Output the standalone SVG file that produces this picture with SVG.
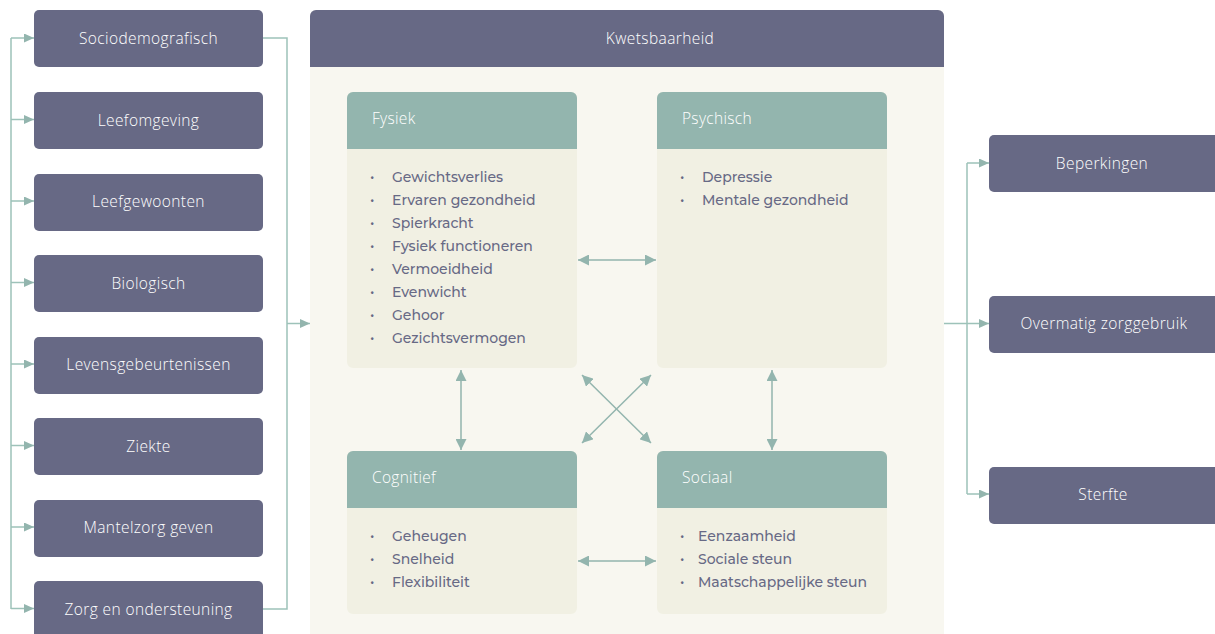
<svg xmlns="http://www.w3.org/2000/svg" width="1215" height="634" viewBox="0 0 1215 634">
<defs>
<style>
.nb{fill:#676985}
.nt{fill:#fff;font-family:"Open Sans","Noto Sans",sans-serif;font-weight:300;font-size:15.5px;letter-spacing:0.4px;text-anchor:middle;dominant-baseline:central}
.ht{fill:#fff;font-family:"Open Sans","Noto Sans",sans-serif;font-weight:300;font-size:15.5px;letter-spacing:0.3px;dominant-baseline:central}
.hd{fill:#93b5ae}
.bd{fill:#f1f0e3}
.li{fill:#676985;font-family:"Montserrat","Open Sans","Noto Sans",sans-serif;font-weight:500;font-size:14px;dominant-baseline:central}
.ln{fill:none;stroke:#9dc2b9;stroke-width:1.5}
.ar{fill:none;stroke:#93b5ae;stroke-width:1.5}
</style>
<marker id="ah" viewBox="0 0 10 10" refX="10" refY="5" markerWidth="10" markerHeight="9" markerUnits="userSpaceOnUse" orient="auto-start-reverse" preserveAspectRatio="none">
<path d="M0,0 L10,5 L0,10 z" fill="#93b5ae"/>
</marker>
<marker id="ah2" viewBox="0 0 10 10" refX="10" refY="5" markerWidth="11" markerHeight="11" markerUnits="userSpaceOnUse" orient="auto-start-reverse">
<path d="M0,0 L10,5 L0,10 z" fill="#93b5ae"/>
</marker>
</defs>

<g id="panel">
<path d="M310,634 V16 a6,6 0 0 1 6,-6 H938 a6,6 0 0 1 6,6 V634 z" fill="#f8f7f0"/>
<path d="M310,67 V16 a6,6 0 0 1 6,-6 H938 a6,6 0 0 1 6,6 V67 z" class="nb"/>
<text x="660" y="38" class="nt">Kwetsbaarheid</text>
</g>

<g id="left-nodes">
<g id="n-socio"><rect x="34" y="10" width="229" height="57" rx="5" class="nb"/><text x="148.5" y="38" class="nt">Sociodemografisch</text></g>
<g id="n-leefomgeving"><rect x="34" y="92" width="229" height="57" rx="5" class="nb"/><text x="148.5" y="119.5" class="nt">Leefomgeving</text></g>
<g id="n-leefgewoonten"><rect x="34" y="174" width="229" height="57" rx="5" class="nb"/><text x="148.5" y="201" class="nt">Leefgewoonten</text></g>
<g id="n-biologisch"><rect x="34" y="255" width="229" height="57" rx="5" class="nb"/><text x="148.5" y="282.5" class="nt">Biologisch</text></g>
<g id="n-levens"><rect x="34" y="337" width="229" height="57" rx="5" class="nb"/><text x="148.5" y="364" class="nt">Levensgebeurtenissen</text></g>
<g id="n-ziekte"><rect x="34" y="418" width="229" height="57" rx="5" class="nb"/><text x="148.5" y="445.5" class="nt">Ziekte</text></g>
<g id="n-mantelzorg"><rect x="34" y="500" width="229" height="57" rx="5" class="nb"/><text x="148.5" y="527" class="nt">Mantelzorg geven</text></g>
<g id="n-zorg"><rect x="34" y="581" width="229" height="60" rx="5" class="nb"/><text x="148.5" y="608.5" class="nt">Zorg en ondersteuning</text></g>
</g>

<g id="right-nodes">
<g id="n-beperkingen"><rect x="989" y="135" width="235" height="57" rx="5" class="nb"/><text x="1102" y="162.5" class="nt">Beperkingen</text></g>
<g id="n-overmatig"><rect x="989" y="296" width="235" height="57" rx="5" class="nb"/><text x="1104" y="323" class="nt">Overmatig zorggebruik</text></g>
<g id="n-sterfte"><rect x="989" y="467" width="235" height="57" rx="5" class="nb"/><text x="1103" y="494" class="nt">Sterfte</text></g>
</g>

<g id="n-fysiek">
<path d="M347,368 V98 a6,6 0 0 1 6,-6 H571 a6,6 0 0 1 6,6 V362 a6,6 0 0 1 -6,6 H353 a6,6 0 0 1 -6,-6 z" class="bd"/>
<path d="M347,149 V98 a6,6 0 0 1 6,-6 H571 a6,6 0 0 1 6,6 V149 z" class="hd"/>
<text x="372" y="118" class="ht">Fysiek</text>
<g class="li">
<text x="370" y="177">•</text><text x="392" y="177">Gewichtsverlies</text>
<text x="370" y="200">•</text><text x="392" y="200">Ervaren gezondheid</text>
<text x="370" y="223">•</text><text x="392" y="223">Spierkracht</text>
<text x="370" y="246">•</text><text x="392" y="246">Fysiek functioneren</text>
<text x="370" y="269">•</text><text x="392" y="269">Vermoeidheid</text>
<text x="370" y="292">•</text><text x="392" y="292">Evenwicht</text>
<text x="370" y="315">•</text><text x="392" y="315">Gehoor</text>
<text x="370" y="338">•</text><text x="392" y="338">Gezichtsvermogen</text>
</g>
</g>

<g id="n-psychisch">
<path d="M657,368 V98 a6,6 0 0 1 6,-6 H881 a6,6 0 0 1 6,6 V362 a6,6 0 0 1 -6,6 H663 a6,6 0 0 1 -6,-6 z" class="bd"/>
<path d="M657,149 V98 a6,6 0 0 1 6,-6 H881 a6,6 0 0 1 6,6 V149 z" class="hd"/>
<text x="682" y="118" class="ht">Psychisch</text>
<g class="li">
<text x="680" y="177">•</text><text x="702" y="177">Depressie</text>
<text x="680" y="200">•</text><text x="702" y="200">Mentale gezondheid</text>
</g>
</g>

<g id="n-cognitief">
<path d="M347,614 V457 a6,6 0 0 1 6,-6 H571 a6,6 0 0 1 6,6 V608 a6,6 0 0 1 -6,6 H353 a6,6 0 0 1 -6,-6 z" class="bd"/>
<path d="M347,508 V457 a6,6 0 0 1 6,-6 H571 a6,6 0 0 1 6,6 V508 z" class="hd"/>
<text x="372" y="477" class="ht">Cognitief</text>
<g class="li">
<text x="370" y="536">•</text><text x="392" y="536">Geheugen</text>
<text x="370" y="559">•</text><text x="392" y="559">Snelheid</text>
<text x="370" y="582">•</text><text x="392" y="582">Flexibiliteit</text>
</g>
</g>

<g id="n-sociaal">
<path d="M657,614 V457 a6,6 0 0 1 6,-6 H881 a6,6 0 0 1 6,6 V608 a6,6 0 0 1 -6,6 H663 a6,6 0 0 1 -6,-6 z" class="bd"/>
<path d="M657,508 V457 a6,6 0 0 1 6,-6 H881 a6,6 0 0 1 6,6 V508 z" class="hd"/>
<text x="682" y="477" class="ht">Sociaal</text>
<g class="li">
<text x="680" y="536">•</text><text x="698" y="536">Eenzaamheid</text>
<text x="680" y="559">•</text><text x="698" y="559">Sociale steun</text>
<text x="680" y="582">•</text><text x="698" y="582">Maatschappelijke steun</text>
</g>
</g>

<g id="connectors">
<path class="ln" d="M11,38 V609"/>
<path class="ln" d="M11,38 H34" marker-end="url(#ah)"/>
<path class="ln" d="M11,119.5 H34" marker-end="url(#ah)"/>
<path class="ln" d="M11,201 H34" marker-end="url(#ah)"/>
<path class="ln" d="M11,282.5 H34" marker-end="url(#ah)"/>
<path class="ln" d="M11,364 H34" marker-end="url(#ah)"/>
<path class="ln" d="M11,445.5 H34" marker-end="url(#ah)"/>
<path class="ln" d="M11,527 H34" marker-end="url(#ah)"/>
<path class="ln" d="M11,608.5 H34" marker-end="url(#ah)"/>
<path class="ln" d="M263,38 H287 V609 H263"/>
<path class="ln" d="M287,323.5 H310" marker-end="url(#ah)"/>
<path class="ln" d="M944,323.5 H989" marker-end="url(#ah)"/>
<path class="ln" d="M967,163 V494"/>
<path class="ln" d="M967,163 H989" marker-end="url(#ah)"/>
<path class="ln" d="M967,494 H989" marker-end="url(#ah)"/>
<path class="ar" d="M578,260 H656" marker-start="url(#ah2)" marker-end="url(#ah2)"/>
<path class="ar" d="M578,561 H656" marker-start="url(#ah2)" marker-end="url(#ah2)"/>
<path class="ar" d="M461,370 V450" marker-start="url(#ah2)" marker-end="url(#ah2)"/>
<path class="ar" d="M772,370 V450" marker-start="url(#ah2)" marker-end="url(#ah2)"/>
<path class="ar" d="M582,375 L651,443" marker-start="url(#ah2)" marker-end="url(#ah2)"/>
<path class="ar" d="M651,375 L582,443" marker-start="url(#ah2)" marker-end="url(#ah2)"/>
</g>
</svg>
